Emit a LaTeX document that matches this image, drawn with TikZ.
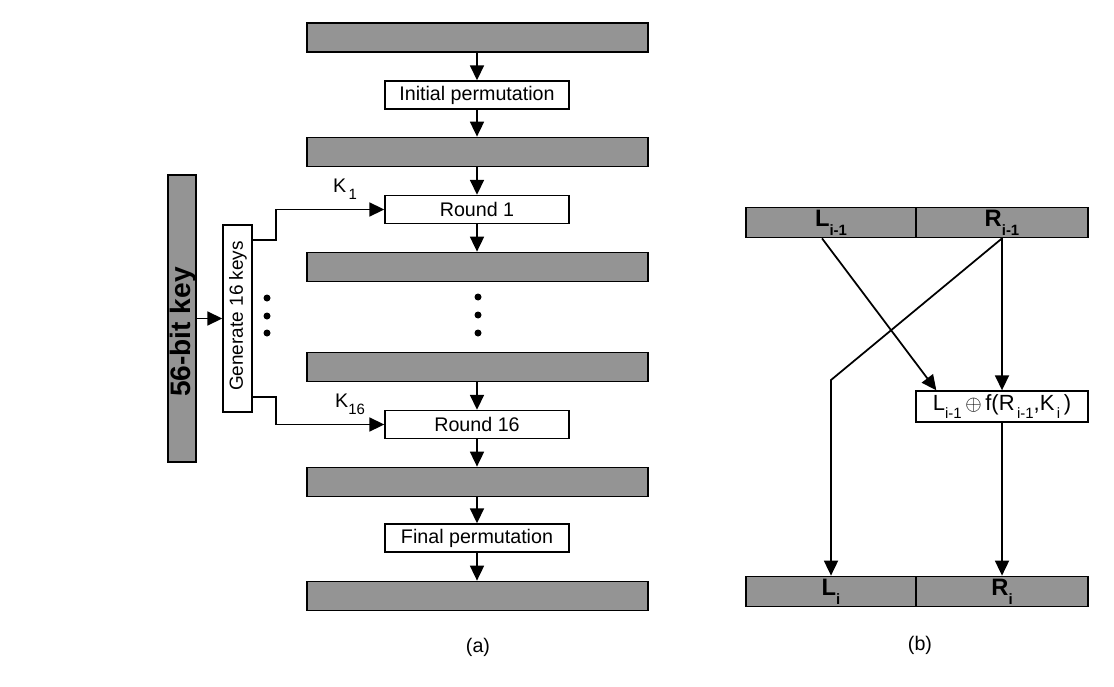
\documentclass[tikz,border=0pt]{standalone}
\usepackage{fontspec}
\setmainfont{Liberation Sans}
\usetikzlibrary{arrows.meta,calc}
\newcommand{\lsub}[1]{\raisebox{-0.7ex}{\fontsize{8.5}{9}\selectfont #1}}
\begin{document}
\begin{tikzpicture}[x=0.02cm,y=-0.02cm,
  every node/.style={font=\fontsize{11.2}{13}\selectfont, inner sep=0pt},
  bar/.style={draw, line width=1pt, fill=black!42, minimum width=6.82cm, minimum height=0.58cm},
  half/.style={draw, line width=1pt, fill=black!42, minimum height=0.6cm, font=\fontsize{13.5}{15}\selectfont\bfseries},
  stepbox/.style={draw, line width=0.8pt, fill=white, minimum width=3.68cm, minimum height=0.56cm},
  arr/.style={line width=1pt, -{Triangle[length=3mm,width=2.8mm]}},
  dot/.style={circle, fill, inner sep=0pt, minimum size=1.4mm}]
\useasboundingbox (0,0) rectangle (1114,686);
% (a)
\node[bar] (b1) at (477.5,37.5) {};
\node[stepbox] (ip) at (477,95) {Initial permutation};
\node[bar] (b2) at (477.5,152) {};
\node[stepbox] (r1) at (477,209.5) {Round 1};
\node[bar] (b3) at (477.5,267) {};
\node[bar] (b4) at (477.5,367) {};
\node[stepbox] (r16) at (477,424.5) {Round 16};
\node[bar] (b5) at (477.5,482) {};
\node[stepbox] (fp) at (477,538) {Final permutation};
\node[bar] (b6) at (477.5,596) {};
\draw[arr] (b1.south -| ip.north) -- (ip.north);
\draw[arr] (ip.south) -- (b2.north -| ip.south);
\draw[arr] (b2.south -| r1.north) -- (r1.north);
\draw[arr] (r1.south) -- (b3.north -| r1.south);
\draw[arr] (b4.south -| r16.north) -- (r16.north);
\draw[arr] (r16.south) -- (b5.north -| r16.south);
\draw[arr] (b5.south -| fp.north) -- (fp.north);
\draw[arr] (fp.south) -- (b6.north -| fp.south);
\node[dot] (d1) at (478,297) {};
\node[dot] (d2) at (478,315) {};
\node[dot] (d3) at (478,333) {};
% key side
\node[draw, line width=1pt, fill=black!42, minimum width=0.56cm, minimum height=5.74cm] (key) at (182,318.5) {};
\node[rotate=90, font=\fontsize{16}{18}\selectfont\bfseries] (keyt) at (183,332) {56-bit key};
\node[draw, line width=0.8pt, fill=white, minimum width=0.58cm, minimum height=3.74cm] (gen) at (237.5,318.5) {};
\node[rotate=90, font=\fontsize{10.8}{13}\selectfont] (gent) at (238,316) {Generate 16 keys};
\draw[arr] (key.east) -- (gen.west);
\coordinate (g1) at (gen.east |- 0,240);
\coordinate (g16) at (gen.east |- 0,397);
\draw[arr] (g1) -- ++(23,0) |- (r1.west);
\draw[arr] (g16) -- ++(23,0) |- (r16.west);
\node (k1) at (345,189) {K\lsub{\,1}};
\node (k16) at (350,404) {K\lsub{16}};
\node[dot] (e1) at (267,298) {};
\node[dot] (e2) at (267,316) {};
\node[dot] (e3) at (267,333) {};
\node (la) at (478,647) {(a)};
% (b)
\node[half, minimum width=3.4cm] (lp) at (831,222.5) {L\lsub{\bfseries i-1}};
\node[half, minimum width=3.44cm] (rp) at (1002,222.5) {R\lsub{\bfseries i-1}};
\node[draw, line width=0.8pt, fill=white, minimum width=3.44cm, minimum height=0.62cm, font=\fontsize{12.5}{14}\selectfont] (fb) at (1002,406.5) {L\lsub{i-1}\,$\oplus$\,f(R\lsub{\,i-1},K\lsub{\,i}\,)};
\node[half, minimum width=3.4cm] (li) at (831,591.5) {L\lsub{\bfseries i}};
\node[half, minimum width=3.44cm] (ri) at (1002,591.5) {R\lsub{\bfseries i}};
\coordinate (ls) at ($(lp.south)+(-9,0)$);
\coordinate (ft) at ($(fb.north west)+(21,0)$);
\coordinate (kink) at (831,380);
\draw[arr] (ls) -- (ft);
\draw[arr] (rp.south) -- (fb.north -| rp.south);
\draw[arr] (rp.south) -- (kink) -- (li.north);
\draw[arr] (fb.south -| ri.north) -- (ri.north);
\node (lb) at (920,645) {(b)};
\end{tikzpicture}
\end{document}
